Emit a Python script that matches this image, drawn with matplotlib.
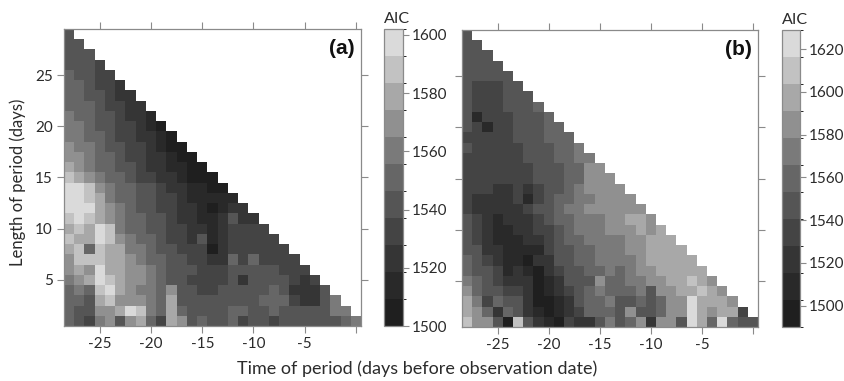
import numpy as np
import matplotlib
matplotlib.use("Agg")
import matplotlib.pyplot as plt
from matplotlib.colors import ListedColormap, BoundaryNorm
from matplotlib.cm import ScalarMappable

# ---------------- data ----------------
times = list(range(-28, 1))      # time of period (days before observation date)
lengths = list(range(1, 30))     # length of period (days)

# AIC values, one list per period length (starting at time -28)
aic_a = {
    29: [1542],
    28: [1542, 1542],
    27: [1542, 1542, 1542],
    26: [1542, 1542, 1542, 1533],
    25: [1551, 1542, 1542, 1533, 1533],
    24: [1551, 1551, 1542, 1533, 1533, 1523],
    23: [1551, 1551, 1542, 1542, 1533, 1523, 1523],
    22: [1551, 1551, 1551, 1542, 1533, 1533, 1523, 1523],
    21: [1561, 1551, 1551, 1542, 1542, 1533, 1523, 1523, 1514],
    20: [1561, 1561, 1551, 1542, 1542, 1533, 1533, 1523, 1514, 1505],
    19: [1561, 1561, 1551, 1551, 1542, 1533, 1533, 1523, 1523, 1514, 1505],
    18: [1570, 1561, 1561, 1551, 1542, 1542, 1533, 1533, 1523, 1514, 1505, 1505],
    17: [1570, 1570, 1561, 1551, 1551, 1542, 1533, 1533, 1523, 1523, 1514, 1505, 1505],
    16: [1579, 1570, 1561, 1551, 1551, 1542, 1542, 1533, 1523, 1523, 1514, 1514, 1505, 1505],
    15: [1588, 1579, 1570, 1561, 1551, 1551, 1542, 1533, 1533, 1523, 1523, 1514, 1505, 1505, 1505],
    14: [1598, 1598, 1588, 1570, 1561, 1551, 1551, 1542, 1542, 1533, 1523, 1523, 1514, 1514, 1505, 1505],
    13: [1598, 1598, 1588, 1579, 1561, 1551, 1551, 1542, 1542, 1533, 1533, 1523, 1514, 1514, 1514, 1514, 1514],
    12: [1598, 1598, 1598, 1579, 1570, 1561, 1551, 1542, 1542, 1533, 1533, 1523, 1523, 1514, 1505, 1514, 1523, 1523],
    11: [1588, 1598, 1588, 1579, 1570, 1561, 1551, 1551, 1542, 1542, 1533, 1523, 1523, 1514, 1514, 1523, 1542, 1523, 1523],
    10: [1579, 1588, 1579, 1598, 1588, 1561, 1551, 1551, 1542, 1542, 1533, 1533, 1523, 1523, 1514, 1523, 1533, 1533, 1533, 1533],
    9: [1588, 1579, 1579, 1598, 1588, 1570, 1561, 1551, 1551, 1542, 1533, 1533, 1523, 1542, 1514, 1523, 1533, 1533, 1533, 1533, 1533],
    8: [1579, 1588, 1551, 1588, 1579, 1579, 1561, 1561, 1551, 1542, 1542, 1533, 1533, 1533, 1505, 1523, 1533, 1533, 1533, 1533, 1533, 1533],
    7: [1570, 1588, 1588, 1588, 1579, 1579, 1570, 1561, 1551, 1551, 1542, 1542, 1533, 1533, 1523, 1523, 1551, 1533, 1551, 1533, 1533, 1533, 1533],
    6: [1570, 1579, 1570, 1598, 1579, 1579, 1570, 1570, 1561, 1551, 1542, 1542, 1542, 1533, 1533, 1533, 1542, 1542, 1542, 1542, 1542, 1533, 1533, 1533],
    5: [1561, 1570, 1579, 1598, 1588, 1579, 1570, 1570, 1561, 1551, 1542, 1542, 1533, 1533, 1533, 1533, 1542, 1523, 1542, 1542, 1542, 1542, 1533, 1523, 1533],
    4: [1551, 1561, 1551, 1588, 1598, 1579, 1570, 1561, 1561, 1551, 1570, 1542, 1542, 1533, 1533, 1542, 1542, 1542, 1542, 1542, 1551, 1542, 1523, 1523, 1523, 1542],
    3: [1551, 1551, 1542, 1579, 1588, 1570, 1570, 1570, 1561, 1551, 1579, 1542, 1542, 1542, 1542, 1542, 1542, 1542, 1542, 1551, 1551, 1551, 1533, 1523, 1523, 1542, 1561],
    2: [1551, 1542, 1542, 1570, 1570, 1579, 1598, 1588, 1561, 1551, 1579, 1551, 1542, 1542, 1542, 1542, 1551, 1551, 1542, 1542, 1551, 1542, 1542, 1542, 1542, 1542, 1561, 1561],
    1: [1551, 1542, 1533, 1561, 1570, 1542, 1570, 1579, 1551, 1533, 1579, 1570, 1542, 1551, 1542, 1542, 1551, 1533, 1542, 1542, 1533, 1542, 1542, 1542, 1542, 1542, 1542, 1551, 1561],
}

aic_b = {
    29: [1547],
    28: [1547, 1547],
    27: [1547, 1547, 1547],
    26: [1547, 1547, 1547, 1547],
    25: [1547, 1547, 1547, 1547, 1547],
    24: [1547, 1534, 1534, 1534, 1547, 1547],
    23: [1547, 1534, 1534, 1534, 1547, 1547, 1547],
    22: [1547, 1534, 1534, 1534, 1547, 1547, 1547, 1559],
    21: [1547, 1509, 1534, 1534, 1534, 1547, 1547, 1547, 1559],
    20: [1547, 1534, 1509, 1534, 1534, 1547, 1547, 1547, 1559, 1559],
    19: [1534, 1534, 1534, 1534, 1534, 1547, 1547, 1547, 1559, 1559, 1559],
    18: [1547, 1534, 1534, 1534, 1534, 1534, 1547, 1547, 1547, 1559, 1559, 1572],
    17: [1534, 1534, 1534, 1534, 1534, 1534, 1547, 1547, 1547, 1559, 1559, 1572, 1572],
    16: [1534, 1534, 1534, 1534, 1534, 1534, 1534, 1547, 1547, 1547, 1559, 1559, 1584, 1584],
    15: [1534, 1534, 1534, 1534, 1534, 1534, 1534, 1547, 1547, 1547, 1559, 1559, 1584, 1584, 1584],
    14: [1534, 1534, 1534, 1521, 1521, 1534, 1521, 1534, 1547, 1547, 1559, 1572, 1584, 1584, 1584, 1584],
    13: [1534, 1521, 1521, 1521, 1521, 1534, 1509, 1534, 1547, 1559, 1559, 1572, 1572, 1584, 1584, 1584, 1584],
    12: [1534, 1521, 1521, 1521, 1521, 1521, 1534, 1547, 1547, 1559, 1572, 1572, 1584, 1584, 1584, 1584, 1584, 1584],
    11: [1547, 1534, 1521, 1509, 1521, 1521, 1521, 1534, 1547, 1559, 1559, 1572, 1572, 1572, 1584, 1584, 1597, 1597, 1584],
    10: [1547, 1534, 1521, 1509, 1509, 1521, 1521, 1534, 1534, 1547, 1559, 1572, 1572, 1572, 1584, 1584, 1584, 1597, 1584, 1597],
    9: [1547, 1534, 1521, 1509, 1509, 1509, 1521, 1521, 1534, 1547, 1559, 1559, 1572, 1572, 1572, 1572, 1584, 1584, 1597, 1597, 1597],
    8: [1547, 1547, 1521, 1521, 1509, 1509, 1509, 1509, 1534, 1547, 1547, 1559, 1559, 1572, 1572, 1572, 1584, 1584, 1597, 1597, 1597, 1597],
    7: [1559, 1547, 1534, 1521, 1509, 1509, 1496, 1521, 1521, 1547, 1547, 1559, 1559, 1572, 1572, 1572, 1572, 1584, 1597, 1597, 1597, 1597, 1597],
    6: [1559, 1547, 1547, 1534, 1509, 1521, 1509, 1496, 1521, 1534, 1547, 1547, 1559, 1559, 1572, 1559, 1572, 1584, 1584, 1597, 1597, 1597, 1597, 1597],
    5: [1572, 1559, 1547, 1534, 1521, 1521, 1521, 1496, 1509, 1521, 1547, 1547, 1547, 1584, 1559, 1559, 1572, 1572, 1584, 1584, 1597, 1597, 1610, 1597, 1584],
    4: [1584, 1559, 1547, 1547, 1534, 1534, 1521, 1496, 1509, 1521, 1534, 1547, 1559, 1572, 1559, 1559, 1559, 1572, 1547, 1584, 1584, 1597, 1597, 1610, 1597, 1584],
    3: [1597, 1572, 1534, 1559, 1547, 1547, 1521, 1496, 1496, 1509, 1521, 1547, 1559, 1559, 1572, 1547, 1547, 1559, 1547, 1559, 1584, 1584, 1622, 1597, 1597, 1597, 1584],
    2: [1597, 1584, 1559, 1521, 1559, 1547, 1521, 1509, 1496, 1509, 1521, 1534, 1559, 1559, 1559, 1547, 1584, 1547, 1547, 1559, 1584, 1584, 1622, 1597, 1584, 1597, 1597, 1534],
    1: [1610, 1584, 1584, 1547, 1496, 1610, 1547, 1521, 1509, 1496, 1534, 1521, 1521, 1547, 1572, 1547, 1559, 1584, 1521, 1584, 1584, 1547, 1622, 1597, 1559, 1622, 1559, 1547, 1547],
}

x_ticks = [-25, -20, -15, -10, -5, 0]
x_ticklabels = ["-25", "-20", "-15", "-10", "-5", ""]
y_ticks = [5, 10, 15, 20, 25]
cb_ticks_a = [1500, 1520, 1540, 1560, 1580, 1600]
cb_ticks_b = [1500, 1520, 1540, 1560, 1580, 1600, 1620]

# ---------------- style ----------------
grays = ["#1f1f1f", "#292929", "#353535", "#444444", "#555555", "#666666",
         "#7a7a7a", "#909090", "#a8a8a8", "#c2c2c2", "#dadada"]
cmap = ListedColormap(grays)
levels_a = np.linspace(1500, 1602, 12)
levels_b = np.linspace(1490, 1629, 12)
frame_col = "#8a8a8a"
text_col = "#2b2b2b"
FONT = "Lato"
plt.rcParams["font.family"] = [FONT, "DejaVu Sans"]

W, H = 844, 381
fig = plt.figure(figsize=(W / 100, H / 100), dpi=100)


def fr(x0, y0, x1, y1):
    return [x0 / W, 1 - y1 / H, (x1 - x0) / W, (y1 - y0) / H]


def to_grid(rows):
    Z = np.full((len(lengths), len(times)), np.nan)
    for L, vals in rows.items():
        Z[L - 1, :len(vals)] = vals
    return np.ma.masked_invalid(Z)


x_edges = np.arange(times[0] - 0.5, times[-1] + 1.0, 1.0)
y_edges = np.arange(lengths[0] - 0.5, lengths[-1] + 1.0, 1.0)


def panel(rect, cbrect, rows, levels, cbticks, label, ylab):
    ax = fig.add_axes(fr(*rect))
    norm = BoundaryNorm(levels, cmap.N)
    ax.pcolormesh(x_edges, y_edges, to_grid(rows), cmap=cmap, norm=norm,
                  edgecolors="none", antialiased=False)
    ax.set_xlim(x_edges[0], x_edges[-1])
    ax.set_ylim(y_edges[0], y_edges[-1])
    ax.set_xticks(x_ticks)
    ax.set_xticklabels(x_ticklabels)
    ax.set_yticks(y_ticks)
    if not ylab:
        ax.set_yticklabels([])
    ax.tick_params(direction="out", length=5, width=0.8, color=frame_col,
                   top=True, right=True, labelsize=11, labelcolor=text_col,
                   pad=3)
    for s in ax.spines.values():
        s.set_color(frame_col)
        s.set_linewidth(0.9)
    ax.text(0.98, 0.965, label, transform=ax.transAxes, ha="right", va="top",
            fontsize=15, fontweight="bold", color="#111111",
            family=["Liberation Sans", "DejaVu Sans"])

    cax = fig.add_axes(fr(*cbrect))
    cb = fig.colorbar(ScalarMappable(norm=norm, cmap=cmap), cax=cax,
                      ticks=cbticks)
    cb.outline.set_edgecolor(frame_col)
    cb.outline.set_linewidth(0.9)
    cax.tick_params(direction="out", length=4, width=0.8, color=frame_col,
                    labelsize=11, labelcolor=text_col, pad=2)
    cax.set_title("AIC", loc="left", fontsize=11.5, color=text_col, pad=4)
    return ax


axa = panel((64, 29, 361, 326), (384, 29, 403, 326), aic_a, levels_a,
            cb_ticks_a, "(a)", True)
axb = panel((462, 30, 758, 327), (782, 30, 800, 327), aic_b, levels_b,
            cb_ticks_b, "(b)", False)

fig.text(18 / W, 1 - 182 / H, "Length of period (days)", rotation=90,
         ha="center", va="center", fontsize=12, color=text_col)
fig.text(417 / W, 1 - 369 / H, "Time of period (days before observation date)",
         ha="center", va="center", fontsize=13, color=text_col)

fig.savefig("out.png", dpi=100)
